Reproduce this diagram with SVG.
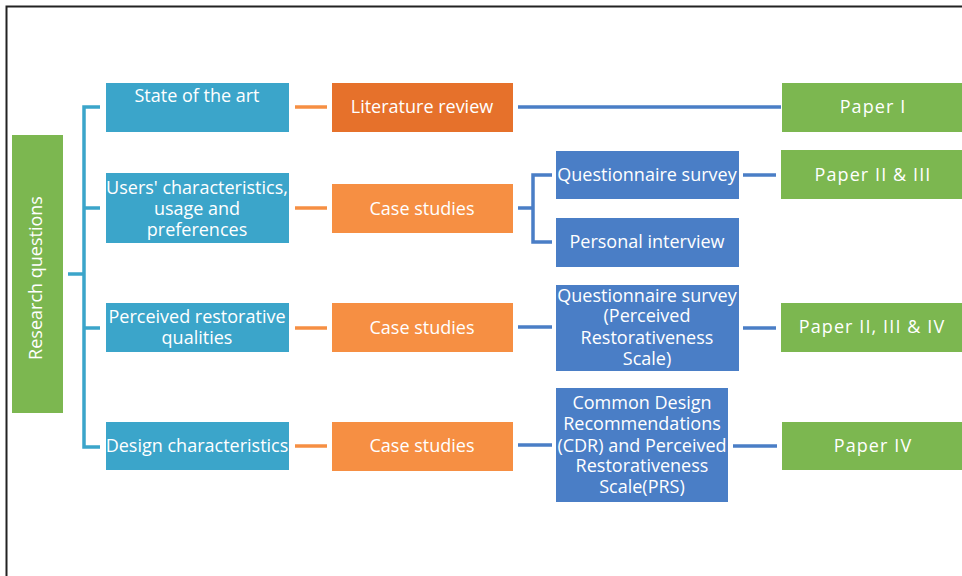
<svg xmlns="http://www.w3.org/2000/svg" width="962" height="576" viewBox="0 0 962 576">
<style>
.t{font-family:"Open Sans","Noto Sans","Liberation Sans",sans-serif;font-size:18px;fill:#ffffff;text-anchor:middle}
.p{letter-spacing:1.1px}
.teal{fill:#3BA5CA}
.dor{fill:#E6712B}
.lor{fill:#F68F43}
.blu{fill:#4A7EC6}
.grn{fill:#7CB750}
.ct{stroke:#3BA5CA;stroke-width:3.5;fill:none}
.co{stroke:#F68F43;stroke-width:3.5;fill:none}
.cb{stroke:#4A7EC6;stroke-width:3.5;fill:none}
</style>
<rect x="0" y="0" width="962" height="576" fill="#ffffff"/>
<path d="M6.5 576 V6.5 H962" stroke="#222" stroke-width="2" fill="none"/>
<g id="connectors">
<path class="ct" d="M68 274 H84"/>
<path class="ct" d="M100 107 H84 V447 H100"/>
<path class="ct" d="M84 208 H100"/>
<path class="ct" d="M84 328 H100"/>
<path class="co" d="M295 107 H327"/>
<path class="co" d="M295 208 H327"/>
<path class="co" d="M295 328 H327"/>
<path class="co" d="M295 446 H327"/>
<path class="cb" d="M518 107 H781"/>
<path class="cb" d="M518 208 H533"/>
<path class="cb" d="M552 175 H533 V242 H552"/>
<path class="cb" d="M743 175 H776"/>
<path class="cb" d="M518 327 H552"/>
<path class="cb" d="M743 328 H776"/>
<path class="cb" d="M518 445 H552"/>
<path class="cb" d="M733 446 H777"/>
</g>
<g id="research-questions">
<rect class="grn" x="12" y="135" width="51" height="278"/>
<text class="t" transform="translate(42 278) rotate(-90)">Research questions</text>
</g>
<g id="state-of-the-art">
<rect class="teal" x="106" y="83" width="183" height="49"/>
<text class="t" x="197" y="102">State of the art</text>
</g>
<g id="users-characteristics">
<rect class="teal" x="106" y="173" width="183" height="70"/>
<text class="t" x="197" y="194">Users' characteristics,</text>
<text class="t" x="197" y="215">usage and</text>
<text class="t" x="197" y="236">preferences</text>
</g>
<g id="perceived-restorative">
<rect class="teal" x="106" y="303" width="183" height="49"/>
<text class="t" x="197" y="323">Perceived restorative</text>
<text class="t" x="197" y="344">qualities</text>
</g>
<g id="design-characteristics">
<rect class="teal" x="106" y="422" width="183" height="48"/>
<text class="t" x="197" y="452">Design characteristics</text>
</g>
<g id="literature-review">
<rect class="dor" x="332" y="83" width="181" height="49"/>
<text class="t" x="422" y="113">Literature review</text>
</g>
<g id="case-studies-1">
<rect class="lor" x="332" y="184" width="181" height="49"/>
<text class="t" x="422" y="215">Case studies</text>
</g>
<g id="case-studies-2">
<rect class="lor" x="332" y="303" width="181" height="49"/>
<text class="t" x="422" y="334">Case studies</text>
</g>
<g id="case-studies-3">
<rect class="lor" x="332" y="422" width="181" height="49"/>
<text class="t" x="422" y="452">Case studies</text>
</g>
<g id="questionnaire-survey">
<rect class="blu" x="556" y="151" width="183" height="48"/>
<text class="t" x="647" y="181">Questionnaire survey</text>
</g>
<g id="personal-interview">
<rect class="blu" x="556" y="218" width="183" height="49"/>
<text class="t" x="647" y="248">Personal interview</text>
</g>
<g id="questionnaire-prs">
<rect class="blu" x="556" y="285" width="183" height="86"/>
<text class="t" x="647" y="302">Questionnaire survey</text>
<text class="t" x="647" y="322">(Perceived</text>
<text class="t" x="647" y="344">Restorativeness</text>
<text class="t" x="647" y="365">Scale)</text>
</g>
<g id="cdr-prs">
<rect class="blu" x="556" y="388" width="172" height="114"/>
<text class="t" x="642" y="409">Common Design</text>
<text class="t" x="642" y="430">Recommendations</text>
<text class="t" x="642" y="452">(CDR) and Perceived</text>
<text class="t" x="642" y="472">Restorativeness</text>
<text class="t" x="642" y="493">Scale(PRS)</text>
</g>
<g id="paper-1">
<rect class="grn" x="782" y="83" width="182" height="49"/>
<text class="t p" x="873" y="113">Paper I</text>
</g>
<g id="paper-2-3">
<rect class="grn" x="781" y="150" width="183" height="49"/>
<text class="t p" x="873" y="181">Paper II &amp; III</text>
</g>
<g id="paper-2-3-4">
<rect class="grn" x="781" y="303" width="183" height="49"/>
<text class="t p" x="872" y="333">Paper II, III &amp; IV</text>
</g>
<g id="paper-4">
<rect class="grn" x="782" y="422" width="182" height="48"/>
<text class="t p" x="873" y="452">Paper IV</text>
</g>
</svg>
